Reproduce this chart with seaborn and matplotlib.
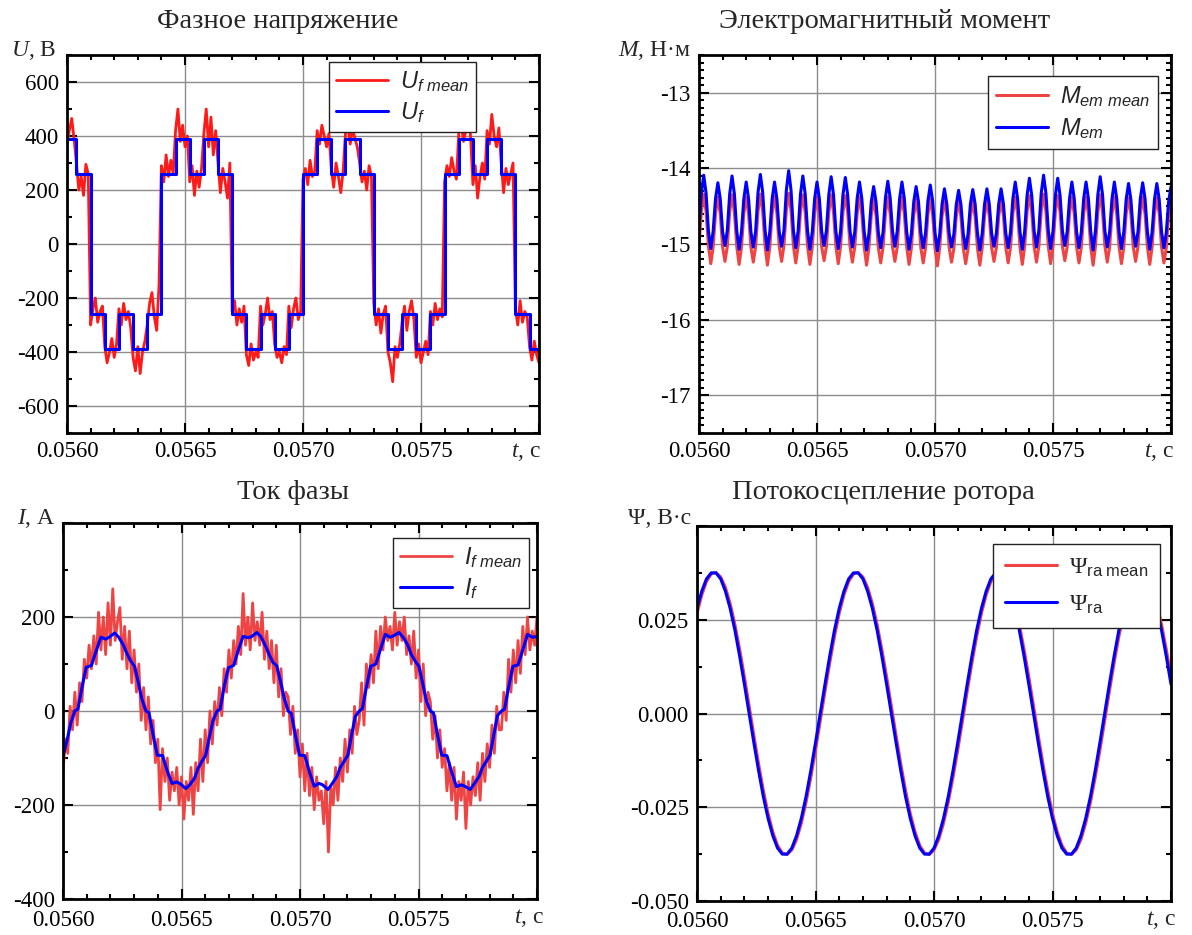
import numpy as np
import matplotlib
matplotlib.use('Agg')
import matplotlib.pyplot as plt
import seaborn as sns
from matplotlib.ticker import MultipleLocator, FuncFormatter

# ---------------- data ----------------
# sample times (s)
t_fast = np.linspace(0.0560, 0.0580, 201)
t_psi = np.linspace(0.0560, 0.0580, 101)

# Phase voltage: stepped inverter voltage (step start times / levels)
u_step_t = [0.05600, 0.05604, 0.05610, 0.05616, 0.05622, 0.05628, 0.05634, 0.05640,
            0.05646, 0.05652, 0.05658, 0.05664, 0.05670, 0.05676, 0.05682, 0.05688,
            0.05694, 0.05700, 0.05706, 0.05712, 0.05718, 0.05724, 0.05730, 0.05736,
            0.05742, 0.05748, 0.05754, 0.05760, 0.05766, 0.05772, 0.05778, 0.05784,
            0.05790, 0.05796, 0.05800]
u_step = [390, 260, -260, -390, -260, -390, -260, 260, 390, 260, 390, 260,
          -260, -390, -260, -390, -260, 260, 390, 260, 390, 260,
          -260, -390, -260, -390, -260, 260, 390, 260, 390, 260,
          -260, -390, -390]
# Phase voltage, averaged (noisy)
u_mean = [370, 420, 465, 390,
          300, 200, 250, 180, 295, 260,
          -300, -240, -200, -290, -250, -230,
          -380, -440, -400, -350, -420, -370,
          -240, -300, -220, -280, -250, -310,
          -420, -470, -380, -480, -400, -360,
          -300, -220, -180, -270, -320, -150,
          290, 230, 330, 250, 310, 260,
          420, 500, 380, 440, 360, 400,
          230, 290, 180, 270, 210, 280,
          410, 500, 360, 470, 330, 420,
          300, 190, 280, 230, 170, 300,
          -250, -210, -300, -240, -290, -230,
          -410, -450, -370, -430, -400, -420,
          -230, -300, -260, -200, -280, -250,
          -370, -420, -400, -440, -380, -410,
          -230, -310, -240, -200, -280, -250,
          240, 280, 220, 310, 250, 270,
          420, 370, 440, 400, 360, 410,
          280, 210, 300, 250, 190, 270,
          410, 440, 370, 430, 390, 360,
          300, 230, 270, 200, 290, 250,
          -220, -300, -240, -330, -260, -230,
          -400, -440, -510, -380, -420, -370,
          -290, -230, -320, -250, -210, -280,
          -420, -370, -440, -400, -360, -410,
          -250, -300, -220, -280, -240, -270,
          230, 290, 250, 320, 270, 240,
          410, 450, 380, 420, 480, 400,
          220, 290, 170, 250, 300, 240,
          420, 370, 480, 400, 360, 430,
          300, 190, 280, 220, 260, 300,
          -240, -300, -210, -290, -250, -270,
          -380, -430, -360, -410, -440]

# Electromagnetic torque
m_em = [-14.83, -14.33, -14.09, -14.33, -14.83, -15.06,
        -14.83, -14.40, -14.19, -14.40, -14.84, -15.02,
        -14.82, -14.34, -14.10, -14.34, -14.83, -15.07,
        -14.84, -14.40, -14.18, -14.40, -14.84, -15.04,
        -14.83, -14.32, -14.08, -14.32, -14.82, -15.08,
        -14.84, -14.40, -14.18, -14.40, -14.84, -15.03,
        -14.82, -14.29, -14.03, -14.29, -14.82, -15.05,
        -14.83, -14.34, -14.10, -14.34, -14.83, -15.07,
        -14.84, -14.40, -14.18, -14.40, -14.84, -15.02,
        -14.82, -14.35, -14.11, -14.35, -14.83, -15.06,
        -14.83, -14.35, -14.12, -14.35, -14.83, -15.04,
        -14.84, -14.40, -14.18, -14.40, -14.84, -15.08,
        -14.86, -14.44, -14.24, -14.44, -14.85, -15.05,
        -14.84, -14.39, -14.17, -14.39, -14.83, -15.03,
        -14.83, -14.40, -14.18, -14.40, -14.84, -15.07,
        -14.86, -14.44, -14.24, -14.44, -14.85, -15.05,
        -14.85, -14.43, -14.22, -14.43, -14.85, -15.09,
        -14.87, -14.47, -14.27, -14.47, -14.86, -15.04,
        -14.87, -14.48, -14.29, -14.48, -14.87, -15.06,
        -14.87, -14.47, -14.28, -14.47, -14.86, -15.08,
        -14.86, -14.47, -14.27, -14.47, -14.86, -15.03,
        -14.86, -14.47, -14.27, -14.47, -14.86, -15.05,
        -14.84, -14.40, -14.18, -14.40, -14.84, -15.07,
        -14.83, -14.36, -14.13, -14.36, -14.83, -15.04,
        -14.82, -14.33, -14.09, -14.33, -14.82, -15.06,
        -14.83, -14.36, -14.13, -14.36, -14.83, -15.02,
        -14.84, -14.40, -14.18, -14.40, -14.84, -15.05,
        -14.84, -14.40, -14.18, -14.40, -14.84, -15.08,
        -14.82, -14.35, -14.11, -14.35, -14.83, -15.04,
        -14.84, -14.40, -14.18, -14.40, -14.84, -15.06,
        -14.84, -14.41, -14.20, -14.41, -14.84, -15.03,
        -14.84, -14.40, -14.19, -14.40, -14.84, -15.07,
        -14.84, -14.41, -14.20, -14.41, -14.84, -15.05,
        -14.85, -14.44, -14.24]
m_mean = [-15.03, -14.57, -14.34, -14.57, -15.03, -15.26,
          -15.04, -14.60, -14.38, -14.60, -15.04, -15.23,
          -15.03, -14.58, -14.35, -14.58, -15.03, -15.27,
          -15.04, -14.60, -14.38, -14.60, -15.04, -15.24,
          -15.03, -14.57, -14.34, -14.57, -15.03, -15.28,
          -15.04, -14.59, -14.37, -14.59, -15.03, -15.23,
          -15.02, -14.56, -14.33, -14.56, -15.02, -15.25,
          -15.03, -14.58, -14.35, -14.58, -15.03, -15.27,
          -15.04, -14.60, -14.38, -14.60, -15.04, -15.22,
          -15.03, -14.58, -14.35, -14.58, -15.03, -15.26,
          -15.03, -14.58, -14.36, -14.58, -15.03, -15.24,
          -15.04, -14.60, -14.38, -14.60, -15.04, -15.28,
          -15.05, -14.62, -14.41, -14.62, -15.05, -15.25,
          -15.04, -14.60, -14.38, -14.60, -15.04, -15.23,
          -15.04, -14.60, -14.38, -14.60, -15.04, -15.27,
          -15.05, -14.62, -14.41, -14.62, -15.05, -15.25,
          -15.05, -14.61, -14.40, -14.61, -15.05, -15.29,
          -15.05, -14.63, -14.42, -14.63, -15.05, -15.24,
          -15.06, -14.64, -14.43, -14.64, -15.06, -15.26,
          -15.06, -14.64, -14.43, -14.64, -15.06, -15.28,
          -15.05, -14.63, -14.42, -14.63, -15.05, -15.23,
          -15.05, -14.63, -14.42, -14.63, -15.05, -15.25,
          -15.04, -14.60, -14.38, -14.60, -15.04, -15.27,
          -15.03, -14.58, -14.36, -14.58, -15.03, -15.24,
          -15.03, -14.57, -14.34, -14.57, -15.03, -15.26,
          -15.03, -14.58, -14.36, -14.58, -15.03, -15.22,
          -15.04, -14.60, -14.38, -14.60, -15.04, -15.25,
          -15.04, -14.60, -14.38, -14.60, -15.04, -15.28,
          -15.03, -14.58, -14.35, -14.58, -15.03, -15.24,
          -15.04, -14.60, -14.38, -14.60, -15.04, -15.26,
          -15.04, -14.60, -14.39, -14.60, -15.04, -15.23,
          -15.04, -14.60, -14.38, -14.60, -15.04, -15.27,
          -15.04, -14.60, -14.39, -14.60, -15.04, -15.25,
          -15.05, -14.62, -14.41]

# Phase current (smooth, breakpoints)
i_t = [0.056000, 0.056018, 0.056033,
       0.056050, 0.056063, 0.056080, 0.056098, 0.056120, 0.056140, 0.056160, 0.056180, 0.056195,
       0.056218, 0.056235, 0.056255, 0.056270, 0.056285, 0.056302, 0.056318, 0.056333,
       0.056350, 0.056363, 0.056380, 0.056398, 0.056420, 0.056440, 0.056460, 0.056480, 0.056495,
       0.056518, 0.056535, 0.056555, 0.056570, 0.056585, 0.056602, 0.056618, 0.056633,
       0.056650, 0.056663, 0.056680, 0.056698, 0.056720, 0.056740, 0.056760, 0.056780, 0.056795,
       0.056818, 0.056835, 0.056855, 0.056870, 0.056885, 0.056902, 0.056918, 0.056933,
       0.056950, 0.056963, 0.056980, 0.056998, 0.057020, 0.057040, 0.057060, 0.057080, 0.057095,
       0.057118, 0.057135, 0.057155, 0.057170, 0.057185, 0.057202, 0.057218, 0.057233,
       0.057250, 0.057263, 0.057280, 0.057298, 0.057320, 0.057340, 0.057360, 0.057380, 0.057395,
       0.057418, 0.057435, 0.057455, 0.057470, 0.057485, 0.057502, 0.057518, 0.057533,
       0.057550, 0.057563, 0.057580, 0.057598, 0.057620, 0.057640, 0.057660, 0.057680, 0.057695,
       0.057718, 0.057735, 0.057755, 0.057770, 0.057785, 0.057802, 0.057818, 0.057833,
       0.057850, 0.057863, 0.057880, 0.057898, 0.057920, 0.057940, 0.057960, 0.057980, 0.057995,
       0.058000]
i_f = [-97, -60, -25,
       0, 4, 50, 93, 97, 128, 157, 153, 157, 166, 157, 140, 122, 107, 95, 60, 25,
       0, -4, -50, -94, -95, -128, -154, -151, -155, -165, -157, -143, -122, -108, -94, -55, -20,
       0, 4, 52, 92, 97, 130, 159, 156, 158, 167, 158, 138, 120, 104, 96, 62, 28,
       0, -5, -50, -94, -95, -130, -160, -154, -157, -167, -155, -140, -120, -108, -94, -50, -12,
       0, 5, 50, 95, 100, 132, 163, 157, 160, 167, 157, 140, 120, 107, 95, 58, 22,
       0, -4, -50, -94, -95, -130, -161, -157, -160, -167, -155, -140, -120, -108, -94, -50, -10,
       0, 4, 50, 95, 98, 130, 163, 157, 158,
       158]
# Phase current, averaged (noisy)
i_mean = [-130, -60, -90, 10, -40,
          40, -30, 60, 20, 110, 70, 140, 90, 160, 100, 210, 130, 200, 120, 230,
          140, 260, 150, 190, 220, 110, 180, 90, 170, 60, 130, 40, 100, -20, 50,
          -40, 30, -70, -20, -110, -60, -210, -80, -150, -100, -190, -130, -170, -120, -200,
          -140, -230, -150, -190, -120, -220, -110, -170, -60, -150, -40, -110, 0, -70, 20,
          -30, 50, -10, 90, 40, 130, 70, 150, 100, 180, 120, 250, 140, 200, 130,
          230, 150, 190, 140, 210, 110, 170, 90, 150, 60, 140, 30, 90, -10, 40,
          30, -50, 10, -90, -40, -140, -70, -170, -90, -180, -120, -210, -140, -190, -170,
          -240, -150, -300, -160, -200, -120, -190, -100, -150, -60, -130, -40, -90, 10, -50,
          -20, 60, -30, 100, 50, 120, 60, 170, 90, 180, 130, 200, 150, 180, 130,
          210, 140, 190, 150, 200, 120, 160, 100, 170, 70, 130, 20, 100, -10, 40,
          20, -60, -10, -100, -40, -120, -80, -170, -110, -190, -120, -230, -150, -190, -130,
          -250, -150, -200, -140, -180, -110, -190, -90, -150, -70, -120, -30, -90, 10, -40,
          -40, 40, -20, 110, 40, 130, 60, 150, 80, 180, 120, 200, 130, 170, 140, 200]

# Rotor flux linkage
psi_ra = [0.0280, 0.0326, 0.0359, 0.0375, 0.0375, 0.0359, 0.0326, 0.0280, 0.0222, 0.0153,
          0.0078, 0.0000, -0.0078, -0.0153, -0.0222, -0.0280, -0.0326, -0.0359, -0.0375, -0.0375,
          -0.0359, -0.0326, -0.0280, -0.0222, -0.0153, -0.0078, 0.0000, 0.0078, 0.0153, 0.0222,
          0.0280, 0.0326, 0.0359, 0.0375, 0.0375, 0.0359, 0.0326, 0.0280, 0.0222, 0.0153,
          0.0078, 0.0000, -0.0078, -0.0153, -0.0222, -0.0280, -0.0326, -0.0359, -0.0375, -0.0375,
          -0.0359, -0.0326, -0.0280, -0.0222, -0.0153, -0.0078, 0.0000, 0.0078, 0.0153, 0.0222,
          0.0280, 0.0326, 0.0359, 0.0375, 0.0375, 0.0359, 0.0326, 0.0280, 0.0222, 0.0153,
          0.0078, 0.0000, -0.0078, -0.0153, -0.0222, -0.0280, -0.0326, -0.0359, -0.0375, -0.0375,
          -0.0359, -0.0326, -0.0280, -0.0222, -0.0153, -0.0078, 0.0000, 0.0078, 0.0153, 0.0222,
          0.0280, 0.0326, 0.0359, 0.0375, 0.0375, 0.0359, 0.0326, 0.0280, 0.0222, 0.0153,
          0.0078]
psi_mean = [0.0267, 0.0316, 0.0352, 0.0372, 0.0376, 0.0364, 0.0336, 0.0293, 0.0237, 0.0171,
            0.0098, 0.0020, -0.0059, -0.0135, -0.0205, -0.0267, -0.0316, -0.0352, -0.0372, -0.0376,
            -0.0364, -0.0336, -0.0293, -0.0237, -0.0171, -0.0098, -0.0020, 0.0059, 0.0135, 0.0205,
            0.0267, 0.0316, 0.0352, 0.0372, 0.0376, 0.0364, 0.0336, 0.0293, 0.0237, 0.0171,
            0.0098, 0.0020, -0.0059, -0.0135, -0.0205, -0.0267, -0.0316, -0.0352, -0.0372, -0.0376,
            -0.0364, -0.0336, -0.0293, -0.0237, -0.0171, -0.0098, -0.0020, 0.0059, 0.0135, 0.0205,
            0.0267, 0.0316, 0.0352, 0.0372, 0.0376, 0.0364, 0.0336, 0.0293, 0.0237, 0.0171,
            0.0098, 0.0020, -0.0059, -0.0135, -0.0205, -0.0267, -0.0316, -0.0352, -0.0372, -0.0376,
            -0.0364, -0.0336, -0.0293, -0.0237, -0.0171, -0.0098, -0.0020, 0.0059, 0.0135, 0.0205,
            0.0267, 0.0316, 0.0352, 0.0372, 0.0376, 0.0364, 0.0336, 0.0293, 0.0237, 0.0171,
            0.0098]

titles = ['Фазное напряжение', 'Электромагнитный момент', 'Ток фазы', 'Потокосцепление ротора']

# ---------------- style ----------------
sns.set_style('ticks')
plt.rcParams.update({
    'font.family': ['Liberation Serif', 'DejaVu Serif'],
    'mathtext.fontset': 'custom',
    'mathtext.rm': 'Liberation Serif',
    'mathtext.it': 'Liberation Sans:italic',
    'mathtext.sf': 'Liberation Sans',
    'mathtext.cal': 'Liberation Serif:italic',
    'axes.unicode_minus': False,
})

W, H = 1192, 935
fig = plt.figure(figsize=(W / 100, H / 100), dpi=100)


def box(l, t, r, b):
    return [l / W, 1 - b / H, (r - l) / W, (b - t) / H]


def fx(x):
    return x / W


def fy(y):
    return 1 - y / H


ax_u = fig.add_axes(box(67, 55, 539, 433))
ax_m = fig.add_axes(box(699, 55, 1171, 433))
ax_i = fig.add_axes(box(63, 523, 537, 899))
ax_p = fig.add_axes(box(697, 526, 1171, 901))

RED = '#ff1a1a'
RED2 = '#ef4444'
BLUE = '#0000ff'


def style(ax, ylim, ymaj, ymin, yfmt, ytop_hide, xpad=6):
    ax.set_xlim(0.0560, 0.0580)
    ax.set_ylim(*ylim)
    ax.xaxis.set_major_locator(MultipleLocator(0.0005))
    ax.xaxis.set_minor_locator(MultipleLocator(0.0001))
    ax.yaxis.set_major_locator(MultipleLocator(ymaj))
    ax.yaxis.set_minor_locator(MultipleLocator(ymin))
    ax.xaxis.set_major_formatter(FuncFormatter(lambda v, p: '' if v > 0.05799 else f'{v:.4f}'))
    ax.yaxis.set_major_formatter(FuncFormatter(
        lambda v, p: '' if v > ytop_hide else yfmt(v)))
    ax.tick_params(which='both', direction='in', top=True, right=True,
                   labelsize=16.5, width=1.5, color='black', labelcolor='black')
    ax.tick_params(which='major', length=7, pad=6)
    ax.tick_params(axis='x', which='major', pad=xpad)
    ax.tick_params(which='minor', length=3.5)
    ax.set_axisbelow(True)
    ax.grid(True, which='major', color='#8c8c8c', lw=1.0)
    for s in ax.spines.values():
        s.set_linewidth(2.0)
        s.set_color('black')
    ax.set_xlabel('')
    ax.set_ylabel('')


def legend(ax, x, y, spacing=0.25, bpad=0.3):
    leg = ax.legend(loc='upper left', bbox_to_anchor=(fx(x), fy(y)),
                    bbox_transform=fig.transFigure, borderaxespad=0,
                    frameon=True, fancybox=False, framealpha=1, edgecolor='#222222',
                    prop={'size': 17}, handlelength=2.2, handletextpad=0.5,
                    labelspacing=spacing, borderpad=bpad)
    leg.get_frame().set_linewidth(1.0)
    return leg


# Voltage
sns.lineplot(x=t_fast, y=u_mean, ax=ax_u, color=RED, lw=2.0, estimator=None, sort=False,
             label=r'$U_{f\ mean}$')
sns.lineplot(x=u_step_t, y=u_step, ax=ax_u, color=BLUE, lw=2.2, estimator=None, sort=False,
             drawstyle='steps-post', label=r'$U_f$')
style(ax_u, (-700, 700), 200, 100, lambda v: f'{v:.0f}', 650)
legend(ax_u, 329, 62)

# Torque
sns.lineplot(x=t_fast, y=m_mean, ax=ax_m, color=RED2, lw=2.2, estimator=None, sort=False,
             label=r'$M_{em\ mean}$')
sns.lineplot(x=t_fast, y=m_em, ax=ax_m, color=BLUE, lw=2.2, estimator=None, sort=False,
             label=r'$M_{em}$')
style(ax_m, (-17.5, -12.5), 1, 0.1, lambda v: f'{v:.0f}', -12.6)
legend(ax_m, 988, 76, spacing=0.3, bpad=0.35)

# Current
sns.lineplot(x=t_fast, y=i_mean, ax=ax_i, color=RED2, lw=2.0, estimator=None, sort=False,
             label=r'$I_{f\ mean}$')
sns.lineplot(x=i_t, y=i_f, ax=ax_i, color=BLUE, lw=2.2, estimator=None, sort=False,
             label=r'$I_f$')
style(ax_i, (-400, 400), 200, 100, lambda v: f'{v:.0f}', 350, xpad=8)
legend(ax_i, 393, 538)

# Flux
sns.lineplot(x=t_psi, y=psi_mean, ax=ax_p, color=RED2, lw=2.2, estimator=None, sort=False,
             label=r'$\Psi_{\mathsf{ra\ mean}}$')
sns.lineplot(x=t_psi, y=psi_ra, ax=ax_p, color=BLUE, lw=2.2, estimator=None, sort=False,
             label=r'$\Psi_{\mathsf{ra}}$')
style(ax_p, (-0.05, 0.05), 0.025, 0.0125, lambda v: f'{v:.3f}', 0.045, xpad=7)
legend(ax_p, 993, 544, spacing=0.6, bpad=0.5)

# Titles
fig.text(fx(278), fy(22), titles[0], ha='center', va='center', fontsize=20.5)
fig.text(fx(885), fy(22), titles[1], ha='center', va='center', fontsize=20.5)
fig.text(fx(293), fy(492), titles[2], ha='center', va='center', fontsize=20.5)
fig.text(fx(883), fy(492), titles[3], ha='center', va='center', fontsize=20.5)

# Axis labels
fs = 17
fig.text(fx(56), fy(50), r'$\mathcal{U}$, В', ha='right', va='center', fontsize=fs)
fig.text(fx(691), fy(51), r'$\mathcal{M}$, Н·м', ha='right', va='center', fontsize=fs)
fig.text(fx(56), fy(519), r'$\mathcal{I}$, А', ha='right', va='center', fontsize=fs)
fig.text(fx(691), fy(519), 'Ψ, В·с', ha='right', va='center', fontsize=fs)
fig.text(fx(541), fy(452), r'$\mathcal{t}$, с', ha='right', va='center', fontsize=fs)
fig.text(fx(1174), fy(452), r'$\mathcal{t}$, с', ha='right', va='center', fontsize=fs)
fig.text(fx(544), fy(918), r'$\mathcal{t}$, с', ha='right', va='center', fontsize=fs)
fig.text(fx(1176), fy(920), r'$\mathcal{t}$, с', ha='right', va='center', fontsize=fs)

fig.savefig('out.png', dpi=100)
